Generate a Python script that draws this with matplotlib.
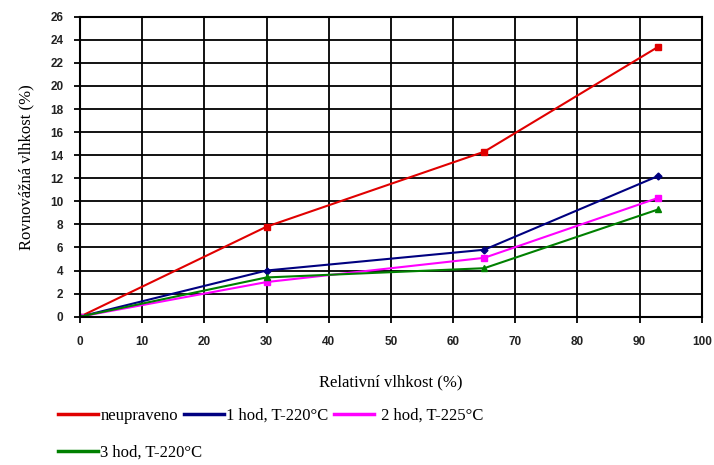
import matplotlib.pyplot as plt
from matplotlib.lines import Line2D

# relative humidity (%)
rh = [0, 30, 65, 93]

# equilibrium moisture (%)
neupraveno = [0, 7.8, 14.3, 23.4]
hod1_220 = [0, 4.0, 5.8, 12.2]
hod2_225 = [0, 3.0, 5.1, 10.3]
hod3_220 = [0, 3.4, 4.2, 9.3]

labels = ['neupraveno', '1 hod, T-220°C', ' 2 hod, T-225°C', '3 hod, T-220°C']
colors = ['#e00000', '#000080', '#ff00ff', '#008000']

fig = plt.figure(figsize=(7.14, 4.65), dpi=100)
ax = fig.add_axes([0.112, 0.319, 0.871, 0.645])

ax.plot(rh, neupraveno, 's-', color=colors[0], lw=1.5, ms=4)
ax.plot(rh, hod1_220, 'D-', color=colors[1], lw=1.5, ms=3.5)
ax.plot(rh, hod2_225, 's-', color=colors[2], lw=1.5, ms=4)
ax.plot(rh, hod3_220, '^-', color=colors[3], lw=1.5, ms=4)

ax.set_xlim(0, 100)
ax.set_ylim(0, 26)
ax.set_xticks(range(0, 101, 10))
ax.set_yticks(range(0, 27, 2))
ax.grid(True, color='black', lw=1.3)
ax.set_axisbelow(True)
for s in ax.spines.values():
    s.set_linewidth(1.5)
ax.tick_params(labelsize=8.5, width=1.3, length=4)
ax.tick_params(axis='x', pad=10)
ax.tick_params(axis='y', pad=8)
for t in ax.get_xticklabels() + ax.get_yticklabels():
    t.set_family('Liberation Sans')
    t.set_fontweight('bold')
    t.set_color('#222222')

ax.set_xlabel('Relativní vlhkost (%)', family='Liberation Serif', fontsize=12, labelpad=19)
ax.set_ylabel('Rovnovážná vlhkost (%)', family='Liberation Serif', fontsize=12, labelpad=11)

handles = [Line2D([], [], color=c, lw=2.5) for c in colors]
leg_kw = dict(frameon=False, prop={'family': 'Liberation Serif', 'size': 12},
              handlelength=2.4, handletextpad=0.15, columnspacing=0.35,
              borderpad=0, borderaxespad=0)
fig.legend(handles[:3], labels[:3], loc='center left', bbox_to_anchor=(0.081, 0.106),
           ncol=3, **leg_kw)
fig.legend(handles[3:], labels[3:], loc='center left', bbox_to_anchor=(0.081, 0.026),
           ncol=1, **leg_kw)

fig.savefig('out.png')
